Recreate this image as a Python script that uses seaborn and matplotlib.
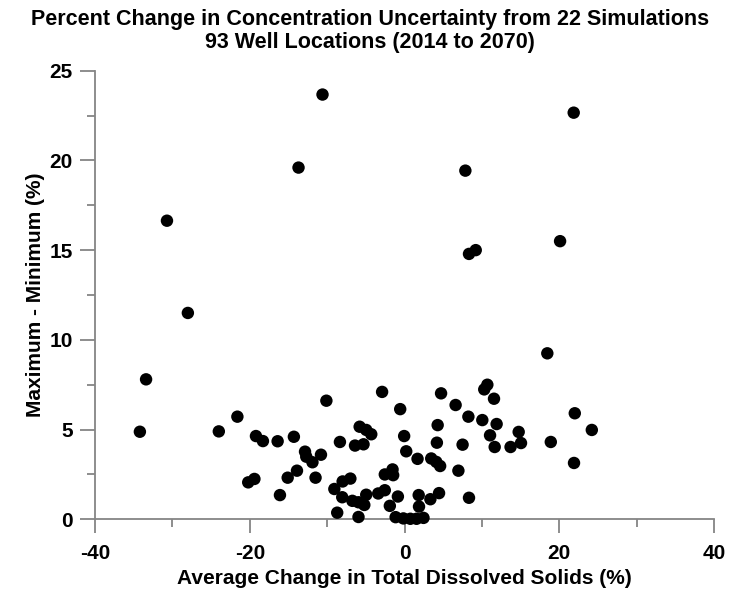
import matplotlib
matplotlib.use('Agg')
import matplotlib.pyplot as plt
import seaborn as sns
import pandas as pd
from matplotlib.ticker import MultipleLocator

# Average change in TDS (%) and max-min spread (%) for the wells
avg_change = [
    -30.7, -28.0, -13.7, -10.6, 21.86, 7.86, 20.1, 8.33, 9.2, 18.45, -33.4, -34.2,
    -24.0, -21.6, -19.2, -18.3, -16.4, -14.3, -10.1, -2.9, -0.56,
    -20.2, -19.4, -16.1, -15.1, -13.9, -12.86, -12.7, -11.9, -10.8, -11.5,
    -8.35, -5.8, -4.95, -4.3, -6.4, -5.3, -0.05, 0.22,
    -9.07, -8.0, -7.0, -8.05, -6.74, -5.95, -5.2, -4.95, -8.7, -5.95,
    -3.4, -2.55, -2.55, -1.55, -1.47, -0.86, -1.9,
    -1.15, -0.15, 0.75, 1.55, 2.45,
    4.72, 10.3, 10.7, 11.56, 6.6, 8.25, 10.05, 11.9, 4.28, 4.18, 7.5,
    11.05, 11.65, 13.7, 14.75, 15.05, 18.9, 22.0, 24.2, 21.9,
    1.68, 3.45, 4.1, 4.6, 6.96, 1.83, 1.87, 3.34, 4.46, 8.33,
]
max_min = [
    16.64, 11.5, 19.6, 23.67, 22.66, 19.43, 15.5, 14.79, 15.0, 9.25, 7.8, 4.88,
    4.9, 5.72, 4.64, 4.36, 4.35, 4.6, 6.61, 7.1, 6.14,
    2.06, 2.25, 1.35, 2.32, 2.71, 3.77, 3.49, 3.18, 3.6, 2.32,
    4.31, 5.16, 4.98, 4.74, 4.11, 4.18, 4.64, 3.79,
    1.69, 2.11, 2.27, 1.23, 1.03, 0.95, 0.8, 1.37, 0.37, 0.13,
    1.44, 1.62, 2.5, 2.78, 2.46, 1.27, 0.75,
    0.12, 0.05, 0.03, 0.03, 0.08,
    7.02, 7.24, 7.5, 6.72, 6.37, 5.72, 5.53, 5.31, 5.25, 4.27, 4.16,
    4.68, 4.03, 4.03, 4.87, 4.25, 4.31, 5.91, 4.98, 3.14,
    3.37, 3.39, 3.2, 2.97, 2.71, 1.35, 0.71, 1.12, 1.46, 1.2,
]

df = pd.DataFrame({'avg': avg_change, 'spread': max_min})

sns.set_style('ticks')
plt.rcParams['font.family'] = ['Liberation Sans', 'DejaVu Sans']
plt.rcParams['font.weight'] = 'bold'
plt.rcParams['axes.unicode_minus'] = False
plt.rcParams['text.color'] = 'black'
plt.rcParams['axes.labelcolor'] = 'black'
plt.rcParams['xtick.labelcolor'] = 'black'
plt.rcParams['ytick.labelcolor'] = 'black'

fig = plt.figure(figsize=(7.37, 5.9), dpi=100)
ax = fig.add_axes([0.1289, 0.1198, 0.8400, 0.7604])

sns.scatterplot(data=df, x='avg', y='spread', ax=ax, color='black', s=80,
                edgecolor='none', clip_on=False, zorder=3)

ax.set_xlim(-40, 40)
ax.set_ylim(0, 25)
ax.xaxis.set_major_locator(MultipleLocator(20))
ax.xaxis.set_minor_locator(MultipleLocator(10))
ax.yaxis.set_major_locator(MultipleLocator(5))
ax.yaxis.set_minor_locator(MultipleLocator(2.5))

grey = '#858585'
for side in ['top', 'right']:
    ax.spines[side].set_visible(False)
for side in ['left', 'bottom']:
    ax.spines[side].set_color(grey)
    ax.spines[side].set_linewidth(1.3)

ax.tick_params(which='major', length=11, width=1.3, color=grey, labelsize=15)
ax.tick_params(which='minor', length=6, width=1.3, color=grey)
ax.tick_params(axis='x', which='major', length=10, pad=8)
ax.tick_params(axis='y', which='major', pad=5)
for lbl in ax.get_xticklabels() + ax.get_yticklabels():
    lbl.set_fontweight('bold')

ax.set_xlabel('Average Change in Total Dissolved Solids (%)', fontsize=15,
              fontweight='bold', labelpad=4)
ax.set_ylabel('Maximum - Minimum (%)', fontsize=15, fontweight='bold', labelpad=3)

fig.text(0.502, 0.948, 'Percent Change in Concentration Uncertainty from 22 Simulations\n'
         '93 Well Locations (2014 to 2070)', ha='center', va='center',
         fontsize=15.5, fontweight='bold', linespacing=1.12)

plt.savefig('out.png', dpi=100)
